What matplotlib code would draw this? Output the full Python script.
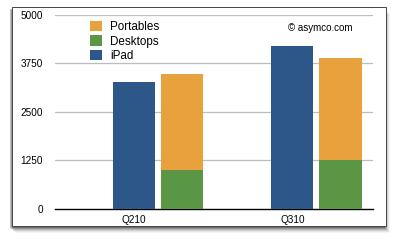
import numpy as np
import matplotlib.pyplot as plt
from matplotlib.patches import Rectangle

plt.rcParams['font.family'] = ['Liberation Sans', 'DejaVu Sans']

quarters = ['Q210', 'Q310']
ipad = [3270, 4188]
desktops = [1004, 1242]
portables = [2468, 2643]
yticks = [0, 1250, 2500, 3750, 5000]

c_ipad = '#2d5689'
c_desk = '#5b9644'
c_port = '#e8a13c'

W, H = 398, 243
fig = plt.figure(figsize=(W / 100, H / 100), dpi=100)
fig.patch.set_facecolor('white')

# panel shadow + panel
x0, x1, yt, yb = 12, 386, 7, 226
for i, a in enumerate([0.04, 0.06, 0.09, 0.13, 0.18, 0.25]):
    off = 7 - i
    fig.patches.append(Rectangle(((x0 + off - 4) / W, (H - yb - off) / H),
                                 (x1 - x0 + 1) / W, (yb - yt) / H,
                                 transform=fig.transFigure, facecolor='black',
                                 edgecolor='none', alpha=a, zorder=0))
fig.patches.append(Rectangle((x0 / W, (H - yb) / H), (x1 - x0) / W, (yb - yt) / H,
                             transform=fig.transFigure, facecolor='white',
                             edgecolor='#444444', linewidth=0.7, zorder=1))

ax = fig.add_axes([55 / W, (H - 208.5) / H, (373 - 55) / W, (208.5 - 15) / H])
ax.set_zorder(2)
ax.patch.set_alpha(0)

x = np.arange(len(quarters))
bw = 0.265
ax.bar(x, ipad, bw, color=c_ipad, zorder=3, label='iPad')
ax.bar(x + 0.303, desktops, bw, color=c_desk, zorder=3, label='Desktops')
ax.bar(x + 0.303, portables, bw, bottom=desktops, color=c_port, zorder=3, label='Portables')

ax.set_xlim(-0.498, 1.508)
ax.set_ylim(0, 5000)
ax.set_yticks(yticks)
ax.set_yticklabels([str(v) for v in yticks], fontsize=7.2)
ax.set_xticks(x)
ax.set_xticklabels(quarters, fontsize=7.2)
ax.tick_params(length=0, pad=8.5)
ax.tick_params(axis='x', pad=5)
for v in yticks[1:]:
    ax.axhline(v, color='#bdbdbd', linewidth=0.9, zorder=1)
for s in ['top', 'right', 'left']:
    ax.spines[s].set_visible(False)
ax.spines['bottom'].set_color('black')
ax.spines['bottom'].set_linewidth(1.0)

h, l = ax.get_legend_handles_labels()
ax.legend(h[::-1], l[::-1], loc='upper left', bbox_to_anchor=(0.11, 0.97),
          frameon=False, fontsize=8.4, handlelength=1.0, handleheight=1.0,
          handletextpad=0.75, labelspacing=0.2, borderpad=0, borderaxespad=0)

ax.text(0.935, 0.935, '© asymco.com', transform=ax.transAxes, ha='right',
        va='center', fontsize=7)

fig.savefig('out.png', dpi=100)
